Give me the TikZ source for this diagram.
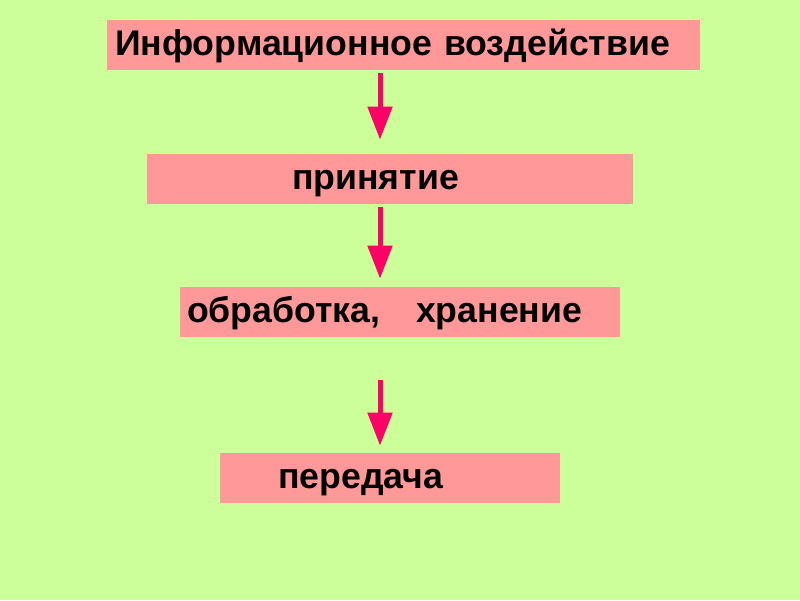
\documentclass[tikz,border=0pt]{standalone}
\usepackage{fontspec}
\setmainfont{Liberation Sans}
\usetikzlibrary{arrows.meta}

\definecolor{bgcol}{HTML}{CCFF99}
\definecolor{boxcol}{HTML}{FF9999}
\definecolor{arrcol}{HTML}{FF0066}

\tikzset{
    stage/.style={fill=boxcol, minimum height=1cm, align=left,
        text height=0.432cm, text depth=0cm,
        font=\fontsize{20.3}{24}\selectfont\bfseries},
    arr/.style={draw=arrcol, line width=0.1cm,
        -{Triangle[width=0.48cm,length=0.66cm]}}
}

\begin{document}
\begin{tikzpicture}
        \fill[bgcol] (0,0) rectangle (16,-12);
        \useasboundingbox (0,0) rectangle (16,-12);

        \node[stage, inner xsep=0.16cm, text width=11.54cm] (vozd) at (8.07,-0.9) {Информационное воздействие};
        \node[stage, inner xsep=2.9cm, text width=3.92cm] (prin) at (7.8,-3.58) {принятие};
        \node[stage, inner xsep=0.14cm, text width=8.52cm] (obr) at (8.0,-6.24) {обработка,\ \ \ хранение};
        \node[stage, inner xsep=1.16cm, text width=4.48cm] (pered) at (7.8,-9.56) {передача};

        \coordinate (ax) at (7.6,0);

        \draw[arr, shorten <=0.06cm, shorten >=0.28cm] (vozd.south -| ax) -- (prin.north -| ax);
        \draw[arr, shorten <=0.06cm, shorten >=0.16cm] (prin.south -| ax) -- (obr.north -| ax);
        \draw[arr, shorten <=0.86cm, shorten >=0.14cm] (obr.south -| ax) -- (pered.north -| ax);
    \end{tikzpicture}
\end{document}
